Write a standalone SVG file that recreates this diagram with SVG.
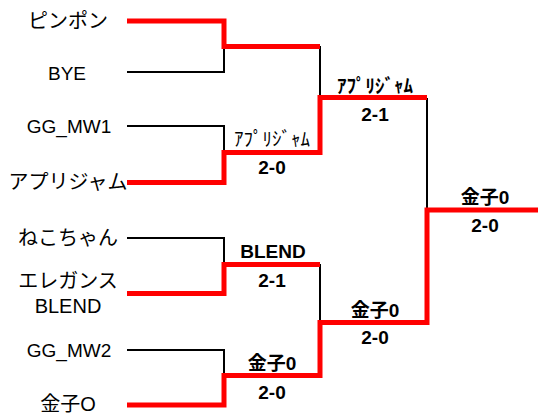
<svg xmlns="http://www.w3.org/2000/svg" width="538" height="417" viewBox="0 0 538 417">
<style>
.bg{fill:#fff}
.k{fill:none;stroke:#000;stroke-width:2;stroke-linejoin:miter;stroke-linecap:butt}
.r{fill:none;stroke:#ff0000;stroke-width:5;stroke-linejoin:miter;stroke-linecap:butt}
.name{font-family:"Liberation Sans","Noto Sans CJK JP",sans-serif;font-size:20px;fill:#000;text-anchor:middle}
.win{font-family:"Liberation Sans","Noto Sans CJK JP",sans-serif;font-size:19px;font-weight:bold;fill:#000;text-anchor:middle}
.winr{font-family:"Liberation Sans","Noto Sans CJK JP",sans-serif;font-size:19px;fill:#000;text-anchor:middle}
.sc{font-family:"Liberation Sans","Noto Sans CJK JP",sans-serif;font-size:19px;font-weight:bold;fill:#000;text-anchor:middle}
</style>
<rect class="bg" x="0" y="0" width="538" height="417"/>
<g id="connectors">
  <polyline class="k" points="127,72 224,72 224,46"/>
  <polyline class="k" points="127,126 224,126 224,152"/>
  <polyline class="k" points="320,46 320,98"/>
  <polyline class="k" points="427,98 427,210"/>
  <polyline class="k" points="127,238 224,238 224,264"/>
  <polyline class="k" points="320,264 320,322"/>
  <polyline class="k" points="127,350 224,350 224,376"/>
  <polyline class="r" points="127,21 224,21 224,46.5 320,46.5"/>
  <polyline class="r" points="127,182.5 224,182.5 224,152.5 320,152.5 320,97.5 427,97.5"/>
  <polyline class="r" points="127,293.5 224,293.5 224,264.5 320,264.5"/>
  <polyline class="r" points="127,405 224,405 224,375.5 320,375.5 320,322.5 427,322.5 427,210 538,210"/>
</g>
<g id="n-pinpon"><text class="name" x="68" y="28">ピンポン</text></g>
<g id="n-bye"><text class="name" x="67" y="80" style="font-size:19px">BYE</text></g>
<g id="n-ggmw1"><text class="name" x="69" y="133" style="font-size:19px">GG_MW1</text></g>
<g id="n-apuri"><text class="name" x="68" y="189">アプリジャム</text></g>
<g id="n-neko"><text class="name" x="68" y="245">ねこちゃん</text></g>
<g id="n-elegance"><text class="name" x="68" y="288">エレガンス</text><text class="name" x="68" y="313">BLEND</text></g>
<g id="n-ggmw2"><text class="name" x="69" y="357" style="font-size:19px">GG_MW2</text></g>
<g id="n-kaneko"><text class="name" x="68" y="411">金子O</text></g>
<g id="w-r2a"><text class="winr" x="272" y="146">ｱﾌﾟﾘｼﾞｬﾑ</text><text class="sc" x="272" y="174">2-0</text></g>
<g id="w-r3a"><text class="win" x="375" y="93">ｱﾌﾟﾘｼﾞｬﾑ</text><text class="sc" x="375" y="121">2-1</text></g>
<g id="w-final"><text class="win" x="485" y="204">金子0</text><text class="sc" x="485" y="232">2-0</text></g>
<g id="w-r2c"><text class="win" x="273" y="258">BLEND</text><text class="sc" x="272" y="287">2-1</text></g>
<g id="w-r3b"><text class="win" x="375" y="317">金子0</text><text class="sc" x="375" y="344">2-0</text></g>
<g id="w-r2d"><text class="win" x="272" y="370">金子0</text><text class="sc" x="272" y="399">2-0</text></g>
</svg>
